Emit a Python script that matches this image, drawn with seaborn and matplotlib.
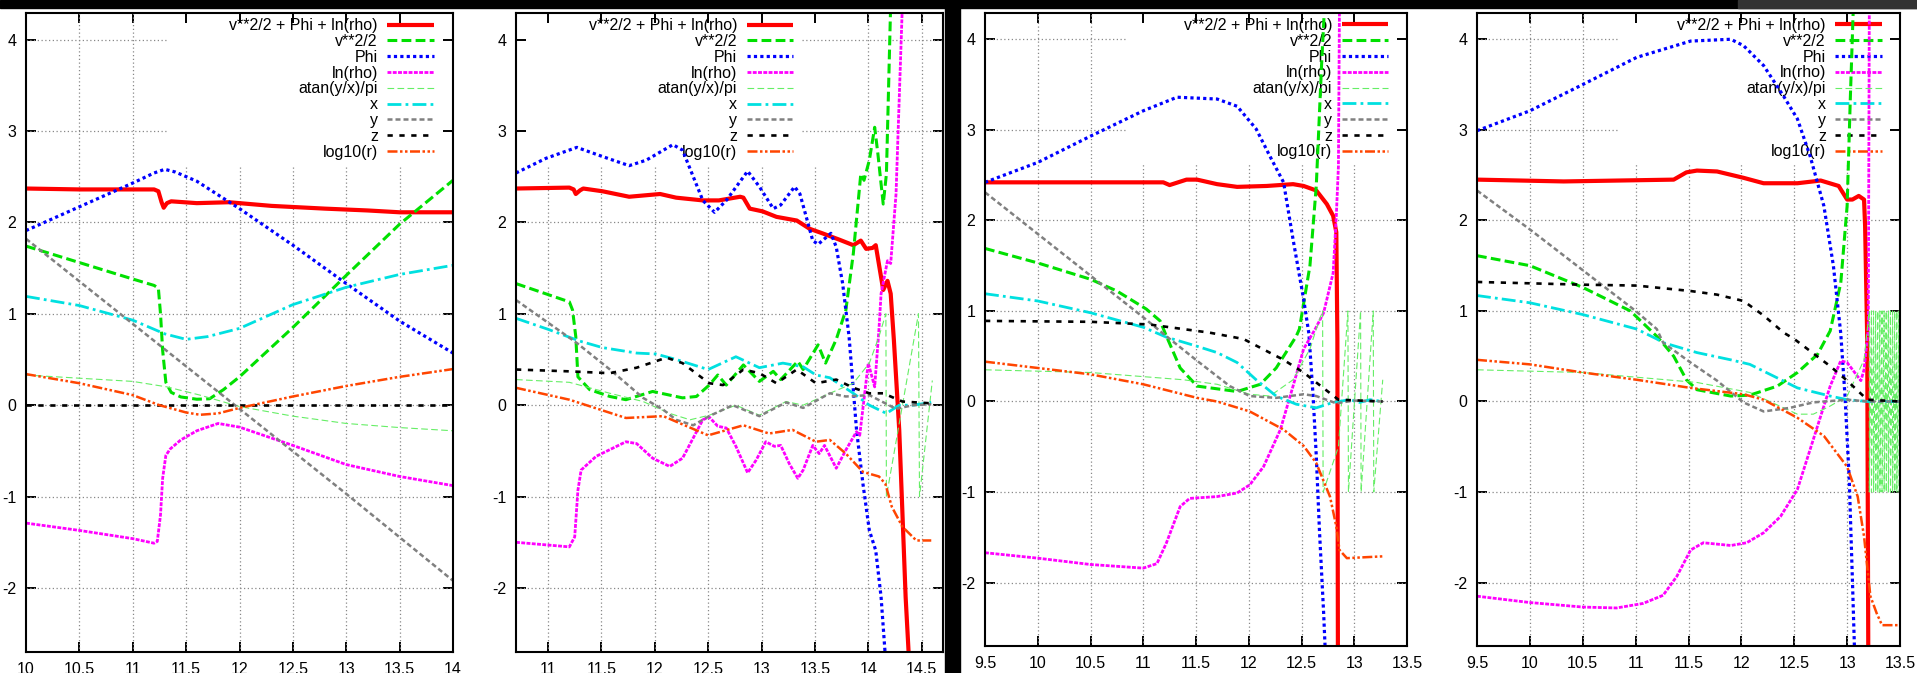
import os
import numpy as np
import pandas as pd
import matplotlib
matplotlib.use("Agg")
import matplotlib.pyplot as plt
import seaborn as sns
from matplotlib import font_manager as fm
from matplotlib.patches import Rectangle
from matplotlib.ticker import FormatStrFormatter

# ---------------- data ----------------
LABELS = ["v**2/2 + Phi + ln(rho)", "v**2/2", "Phi", "ln(rho)", "atan(y/x)/pi",
          "x", "y", "z", "log10(r)"]

# panel 1
p1_tot_x = [10.0, 10.5, 11.0, 11.2, 11.24, 11.27, 11.29, 11.32, 11.36, 11.6, 11.9, 12.3, 12.8, 13.2, 13.5, 14.0]
p1_tot_y = [2.37, 2.36, 2.36, 2.36, 2.34, 2.22, 2.16, 2.21, 2.23, 2.21, 2.22, 2.18, 2.15, 2.13, 2.11, 2.11]
p1_v2_x = [10.0, 10.5, 11.0, 11.2, 11.24, 11.26, 11.28, 11.31, 11.36, 11.45, 11.6, 11.72, 11.85, 12.0, 12.5, 13.0, 13.5, 14.0]
p1_v2_y = [1.74, 1.56, 1.38, 1.31, 1.28, 1.0, 0.6, 0.25, 0.14, 0.09, 0.065, 0.07, 0.17, 0.31, 0.85, 1.42, 1.98, 2.46]
p1_phi_x = [10.0, 10.5, 11.0, 11.2, 11.3, 11.4, 11.6, 12.0, 12.5, 13.0, 13.5, 14.0]
p1_phi_y = [1.91, 2.17, 2.43, 2.54, 2.58, 2.55, 2.45, 2.15, 1.75, 1.33, 0.92, 0.57]
p1_lnrho_x = [10.0, 10.5, 11.0, 11.2, 11.23, 11.26, 11.28, 11.31, 11.35, 11.45, 11.6, 11.8, 12.0, 12.5, 13.0, 13.5, 14.0]
p1_lnrho_y = [-1.29, -1.37, -1.46, -1.51, -1.49, -1.2, -0.8, -0.55, -0.48, -0.38, -0.28, -0.20, -0.24, -0.44, -0.65, -0.78, -0.88]
p1_atan_x = [10.0, 11.0, 11.32, 11.63, 12.0, 12.5, 13.0, 13.5, 14.0]
p1_atan_y = [0.33, 0.26, 0.20, 0.11, -0.015, -0.12, -0.20, -0.245, -0.28]
p1_x_x = [10.0, 10.5, 11.0, 11.3, 11.5, 11.7, 12.0, 12.5, 13.0, 13.5, 14.0]
p1_x_y = [1.19, 1.09, 0.93, 0.78, 0.72, 0.75, 0.84, 1.10, 1.29, 1.43, 1.53]
p1_y_x = [10.0, 11.0, 12.0, 13.0, 14.0]
p1_y_y = [1.82, 0.89, -0.04, -0.97, -1.92]
p1_z_x = [10.0, 14.0]
p1_z_y = [0.0, 0.0]
p1_logr_x = [10.0, 10.5, 11.0, 11.25, 11.5, 11.63, 11.8, 12.0, 12.5, 13.0, 13.5, 14.0]
p1_logr_y = [0.34, 0.24, 0.11, 0.0, -0.08, -0.105, -0.09, -0.03, 0.095, 0.21, 0.31, 0.395]

# panel 2
p2_tot_x = [10.7, 11.2, 11.24, 11.26, 11.3, 11.33, 11.51, 11.76, 12.05, 12.2, 12.45, 12.6, 12.8, 12.83, 12.89, 13.01, 13.14, 13.33, 13.45, 13.57, 13.73, 13.86, 13.93, 13.98, 14.04, 14.07, 14.14, 14.18, 14.21, 14.24, 14.29, 14.32, 14.35, 14.38]
p2_tot_y = [2.37, 2.38, 2.36, 2.31, 2.35, 2.37, 2.34, 2.28, 2.31, 2.27, 2.24, 2.24, 2.28, 2.27, 2.15, 2.12, 2.06, 2.02, 1.93, 1.88, 1.81, 1.75, 1.80, 1.71, 1.72, 1.75, 1.26, 1.36, 1.22, 0.71, -0.27, -1.18, -2.10, -2.75]
p2_v2_x = [10.7, 11.2, 11.23, 11.26, 11.28, 11.39, 11.58, 11.73, 11.98, 12.14, 12.26, 12.39, 12.51, 12.59, 12.67, 12.83, 12.98, 13.11, 13.18, 13.34, 13.39, 13.53, 13.6, 13.7, 13.79, 13.86, 13.93, 13.96, 14.01, 14.06, 14.09, 14.14, 14.17, 14.21]
p2_v2_y = [1.33, 1.13, 1.04, 0.75, 0.31, 0.17, 0.095, 0.06, 0.15, 0.11, 0.08, 0.095, 0.22, 0.33, 0.22, 0.44, 0.26, 0.37, 0.28, 0.48, 0.39, 0.66, 0.46, 0.72, 1.04, 1.66, 2.53, 2.46, 2.68, 3.04, 2.75, 2.20, 2.53, 4.4]
p2_phi_x = [10.7, 10.98, 11.27, 11.51, 11.76, 11.92, 12.17, 12.26, 12.45, 12.56, 12.67, 12.87, 12.98, 13.11, 13.18, 13.31, 13.36, 13.48, 13.53, 13.65, 13.7, 13.76, 13.82, 13.89, 13.95, 14.01, 14.07, 14.12, 14.16]
p2_phi_y = [2.54, 2.70, 2.82, 2.72, 2.62, 2.68, 2.85, 2.79, 2.24, 2.11, 2.24, 2.56, 2.39, 2.15, 2.19, 2.39, 2.31, 1.80, 1.76, 1.88, 1.73, 1.33, 0.75, -0.27, -0.86, -1.37, -1.59, -2.10, -2.75]
p2_lnrho_x = [10.7, 11.2, 11.25, 11.28, 11.31, 11.45, 11.73, 11.83, 11.98, 12.14, 12.26, 12.45, 12.51, 12.59, 12.67, 12.76, 12.87, 12.95, 13.04, 13.12, 13.18, 13.26, 13.34, 13.39, 13.48, 13.54, 13.59, 13.7, 13.79, 13.89, 13.92, 14.0, 14.06, 14.1, 14.12, 14.18, 14.21, 14.26, 14.32]
p2_lnrho_y = [-1.50, -1.55, -1.44, -0.93, -0.71, -0.56, -0.40, -0.42, -0.58, -0.67, -0.58, -0.16, -0.13, -0.23, -0.25, -0.45, -0.74, -0.60, -0.40, -0.45, -0.44, -0.64, -0.80, -0.71, -0.44, -0.53, -0.44, -0.69, -0.49, -0.29, -0.33, 0.46, 0.2, 0.83, 1.22, 1.58, 1.55, 2.31, 4.4]
p2_atan_x = [10.7, 11.2, 11.58, 11.89, 12.14, 12.33, 12.51, 12.76, 12.98, 13.23, 13.39, 13.64, 13.86, 14.01, 14.1, 14.165, 14.17, 14.47, 14.48, 14.6]
p2_atan_y = [0.28, 0.25, 0.13, 0.04, -0.09, -0.16, -0.11, 0.0, -0.11, 0.04, 0.0, 0.13, 0.24, 0.46, 0.75, 1.0, -1.0, 1.0, -1.0, 0.27]
p2_x_x = [10.7, 11.0, 11.3, 11.51, 11.83, 12.01, 12.2, 12.5, 12.76, 12.98, 13.2, 13.39, 13.51, 13.64, 13.86, 14.01, 14.17, 14.29, 14.42, 14.59]
p2_x_y = [0.95, 0.83, 0.70, 0.63, 0.57, 0.56, 0.50, 0.39, 0.53, 0.41, 0.46, 0.42, 0.33, 0.30, 0.13, 0.0, -0.09, 0.0, 0.0, 0.03]
p2_y_x = [10.7, 11.27, 11.58, 11.89, 12.08, 12.2, 12.36, 12.51, 12.73, 12.98, 13.23, 13.39, 13.64, 13.79, 14.01, 14.26, 14.42, 14.59]
p2_y_y = [1.15, 0.68, 0.39, 0.08, -0.05, -0.16, -0.22, -0.12, 0.0, -0.12, 0.03, -0.03, 0.13, 0.095, 0.11, -0.04, 0.0, 0.01]
p2_z_x = [10.7, 11.2, 11.58, 11.83, 12.11, 12.26, 12.51, 12.64, 12.83, 12.98, 13.14, 13.33, 13.51, 13.7, 13.86, 14.01, 14.14, 14.32, 14.59]
p2_z_y = [0.39, 0.37, 0.35, 0.41, 0.52, 0.46, 0.24, 0.22, 0.39, 0.35, 0.24, 0.39, 0.24, 0.28, 0.19, 0.13, 0.13, 0.04, 0.02]
p2_logr_x = [10.7, 11.2, 11.73, 12.08, 12.5, 12.83, 13.07, 13.29, 13.51, 13.64, 13.79, 13.95, 14.1, 14.16, 14.22, 14.32, 14.45, 14.59]
p2_logr_y = [0.19, 0.06, -0.14, -0.12, -0.33, -0.22, -0.31, -0.27, -0.40, -0.38, -0.53, -0.73, -0.78, -0.86, -1.11, -1.33, -1.48, -1.48]

# panel 3
p3_tot_x = [9.5, 10.5, 11.19, 11.25, 11.41, 11.51, 11.7, 11.89, 12.17, 12.42, 12.52, 12.64, 12.74, 12.8, 12.83, 12.84, 12.845]
p3_tot_y = [2.42, 2.42, 2.42, 2.39, 2.45, 2.45, 2.40, 2.37, 2.38, 2.40, 2.38, 2.33, 2.18, 2.05, 1.87, 0.69, -2.75]
p3_v2_x = [9.5, 10.0, 10.5, 10.75, 11.03, 11.16, 11.22, 11.25, 11.35, 11.51, 11.89, 12.11, 12.26, 12.45, 12.48, 12.58, 12.64, 12.69, 12.72]
p3_v2_y = [1.69, 1.53, 1.35, 1.22, 1.02, 0.89, 0.72, 0.64, 0.37, 0.17, 0.11, 0.19, 0.37, 0.72, 0.80, 1.50, 2.38, 3.71, 4.4]
p3_phi_x = [9.5, 10.0, 10.5, 11.0, 11.32, 11.7, 11.89, 12.07, 12.2, 12.33, 12.42, 12.52, 12.57, 12.61, 12.64, 12.67, 12.71, 12.725]
p3_phi_y = [2.42, 2.64, 2.93, 3.21, 3.36, 3.34, 3.26, 3.01, 2.71, 2.42, 1.79, 1.13, 0.75, 0.06, -0.6, -1.42, -2.34, -2.75]
p3_lnrho_x = [9.5, 10.0, 10.5, 11.0, 11.13, 11.22, 11.35, 11.44, 11.7, 11.89, 12.01, 12.14, 12.3, 12.42, 12.52, 12.63, 12.71, 12.8, 12.83, 12.85, 12.86]
p3_lnrho_y = [-1.67, -1.73, -1.80, -1.84, -1.79, -1.56, -1.16, -1.07, -1.05, -1.01, -0.92, -0.72, -0.31, 0.17, 0.58, 0.80, 0.98, 1.42, 2.05, 2.60, 4.4]
p3_atan_x = [9.5, 10.5, 11.38, 11.7, 12.01, 12.2, 12.42, 12.58, 12.64, 12.70, 12.705, 12.85, 12.94, 12.945, 13.06, 13.065, 13.18, 13.185, 13.27]
p3_atan_y = [0.35, 0.32, 0.24, 0.19, 0.08, 0.06, 0.24, 0.58, 0.8, 1.0, -1.0, -0.5, 1.0, -1.0, 1.0, -1.0, 1.0, -1.0, 0.24]
p3_x_x = [9.5, 10.0, 10.5, 11.0, 11.22, 11.25, 11.51, 11.7, 11.89, 12.07, 12.26, 12.45, 12.64, 12.8, 12.96, 13.05, 13.15, 13.27]
p3_x_y = [1.19, 1.11, 0.98, 0.82, 0.71, 0.70, 0.61, 0.54, 0.43, 0.24, 0.06, -0.03, -0.07, -0.01, 0.02, -0.01, 0.02, 0.0]
p3_y_x = [9.5, 10.0, 10.5, 11.0, 11.22, 11.51, 11.82, 12.01, 12.26, 12.52, 12.64, 12.83, 13.0, 13.27]
p3_y_y = [2.31, 1.85, 1.39, 0.93, 0.72, 0.45, 0.17, 0.06, 0.04, 0.08, 0.06, -0.02, 0.01, 0.0]
p3_z_x = [9.5, 10.5, 11.06, 11.63, 11.95, 12.33, 12.52, 12.64, 12.85, 13.27]
p3_z_y = [0.89, 0.88, 0.85, 0.76, 0.69, 0.46, 0.32, 0.21, 0.02, 0.0]
p3_logr_x = [9.5, 10.0, 10.5, 11.0, 11.51, 11.7, 12.01, 12.33, 12.52, 12.64, 12.77, 12.83, 12.86, 12.93, 13.1, 13.27]
p3_logr_y = [0.44, 0.37, 0.30, 0.19, 0.04, 0.0, -0.11, -0.31, -0.49, -0.68, -1.05, -1.38, -1.64, -1.73, -1.72, -1.71]

# panel 4
p4_tot_x = [9.5, 10.32, 11.36, 11.48, 11.58, 11.77, 12.02, 12.21, 12.53, 12.75, 12.92, 13.0, 13.05, 13.11, 13.16, 13.17, 13.19, 13.2]
p4_tot_y = [2.45, 2.43, 2.45, 2.53, 2.55, 2.54, 2.47, 2.41, 2.41, 2.44, 2.38, 2.23, 2.23, 2.27, 2.23, 1.94, 0.69, -2.75]
p4_v2_x = [9.5, 10.0, 10.5, 10.95, 11.2, 11.26, 11.36, 11.48, 11.58, 11.9, 12.08, 12.34, 12.53, 12.72, 12.84, 12.94, 13.0, 13.03, 13.06]
p4_v2_y = [1.61, 1.50, 1.26, 1.0, 0.72, 0.64, 0.50, 0.24, 0.13, 0.06, 0.07, 0.17, 0.32, 0.52, 0.78, 1.31, 2.16, 3.34, 4.4]
p4_phi_x = [9.5, 10.0, 10.5, 11.01, 11.52, 11.9, 12.02, 12.21, 12.4, 12.53, 12.65, 12.78, 12.87, 12.94, 12.98, 13.02, 13.05, 13.07]
p4_phi_y = [2.99, 3.21, 3.50, 3.80, 3.98, 4.0, 3.93, 3.71, 3.37, 3.12, 2.71, 2.16, 1.50, 0.75, 0.06, -0.86, -1.97, -2.75]
p4_lnrho_x = [9.5, 10.0, 10.5, 10.82, 11.07, 11.26, 11.39, 11.52, 11.64, 11.9, 12.05, 12.21, 12.37, 12.53, 12.68, 12.84, 12.94, 13.0, 13.13, 13.16, 13.2, 13.21]
p4_lnrho_y = [-2.15, -2.22, -2.27, -2.28, -2.23, -2.14, -1.93, -1.64, -1.56, -1.59, -1.56, -1.45, -1.27, -0.97, -0.42, 0.17, 0.45, 0.43, 0.23, 0.35, 0.8, 4.4]
p4_atan_x = [9.5, 10.5, 11.58, 12.08, 12.53, 12.68, 12.84, 13.0, 13.16, 13.2,
             13.21, 13.21, 13.23, 13.23, 13.25, 13.25, 13.27, 13.27, 13.29, 13.29,
             13.31, 13.31, 13.33, 13.33, 13.35, 13.35, 13.37, 13.37, 13.39, 13.39,
             13.41, 13.41, 13.43, 13.43, 13.45, 13.45, 13.47, 13.47, 13.49, 13.49]
p4_atan_y = [0.35, 0.32, 0.21, 0.10, -0.14, -0.14, -0.05, 0.06, 0.46, 0.9,
             1, -1, 1, -1, 1, -1, 1, -1, 1, -1,
             1, -1, 1, -1, 1, -1, 1, -1, 1, -1,
             1, -1, 1, -1, 1, -1, 1, -1, 1, -1]
p4_x_x = [9.5, 10.0, 10.5, 11.01, 11.2, 11.26, 11.58, 11.9, 12.08, 12.34, 12.53, 12.84, 13.0, 13.2, 13.5]
p4_x_y = [1.17, 1.09, 0.96, 0.80, 0.69, 0.65, 0.54, 0.46, 0.41, 0.26, 0.15, 0.06, 0.02, 0.0, 0.0]
p4_y_x = [9.5, 10.0, 10.5, 11.0, 11.2, 11.26, 11.52, 11.77, 12.02, 12.21, 12.46, 12.68, 13.0, 13.2, 13.5]
p4_y_y = [2.33, 1.90, 1.45, 1.0, 0.8, 0.65, 0.43, 0.23, -0.01, -0.11, -0.07, -0.01, 0.02, 0.0, 0.0]
p4_z_x = [9.5, 10.5, 11.01, 11.52, 11.77, 12.02, 12.21, 12.4, 12.5, 12.84, 13.0, 13.19, 13.5]
p4_z_y = [1.32, 1.29, 1.28, 1.22, 1.18, 1.11, 0.95, 0.76, 0.69, 0.39, 0.23, 0.02, 0.0]
p4_logr_x = [9.5, 10.0, 10.5, 11.01, 11.52, 12.02, 12.21, 12.53, 12.78, 13.0, 13.1, 13.16, 13.2, 13.22, 13.28, 13.33, 13.49]
p4_logr_y = [0.46, 0.41, 0.32, 0.24, 0.15, 0.08, 0.02, -0.18, -0.38, -0.72, -1.05, -1.49, -1.93, -2.15, -2.34, -2.47, -2.47]

panel1_xticks = [10, 10.5, 11, 11.5, 12, 12.5, 13, 13.5, 14]
panel2_xticks = [11, 11.5, 12, 12.5, 13, 13.5, 14, 14.5]
panel34_xticks = [9.5, 10, 10.5, 11, 11.5, 12, 12.5, 13, 13.5]
yticks = [-2, -1, 0, 1, 2, 3, 4]

# ---------------- styles ----------------
STYLES = [
    dict(color="#ff0000", lw=3.0, ls="-"),
    dict(color="#00e000", lw=2.2, ls=(0, (3.2, 1.4))),
    dict(color="#0000ff", lw=2.3, ls=(0, (1, 1))),
    dict(color="#ff00ff", lw=2.0, ls=(0, (1.4, 0.5))),
    dict(color="#66ee66", lw=0.8, ls=(0, (6, 3))),
    dict(color="#00e0e0", lw=2.0, ls=(0, (5, 1.5, 1, 1.5))),
    dict(color="#808080", lw=1.8, ls=(0, (2, 1.2))),
    dict(color="#000000", lw=1.9, ls=(0, (2, 2.5))),
    dict(color="#ff4500", lw=1.8, ls=(0, (4, 1, 1, 1, 1, 1))),
]

sns.set_theme(style="ticks")
plt.rcParams["font.family"] = ["Liberation Sans", "DejaVu Sans"]
plt.rcParams["axes.unicode_minus"] = False
FS = 11.5

W, H = 1917, 673
fig = plt.figure(figsize=(W / 100, H / 100), dpi=100)
fig.patch.set_facecolor("white")

# window decorations
fig.add_artist(Rectangle((0, 1 - 8 / H), 1, 8 / H, transform=fig.transFigure,
                         color="black", zorder=0))
fig.add_artist(Rectangle((1738 / W, 1 - 8 / H), (W - 1738) / W, 8 / H,
                         transform=fig.transFigure, color="#333333", zorder=0))
fig.add_artist(Rectangle((945 / W, 0), 15 / W, 1 - 8 / H, transform=fig.transFigure,
                         color="black", zorder=0))

panels = [
    dict(px=(26, 13, 453, 652), xlim=(10, 14), xticks=panel1_xticks,
         vbox=(0.33, 1.01), hbox=(0.333, 1.0), leg_x=0.955,
         series=[(p1_tot_x, p1_tot_y), (p1_v2_x, p1_v2_y), (p1_phi_x, p1_phi_y),
                 (p1_lnrho_x, p1_lnrho_y), (p1_atan_x, p1_atan_y), (p1_x_x, p1_x_y),
                 (p1_y_x, p1_y_y), (p1_z_x, p1_z_y), (p1_logr_x, p1_logr_y)]),
    dict(px=(516, 13, 943, 652), xlim=(10.7, 14.7), xticks=panel2_xticks,
         vbox=(-0.01, 0.72), hbox=(0.0, 0.67), leg_x=0.649,
         series=[(p2_tot_x, p2_tot_y), (p2_v2_x, p2_v2_y), (p2_phi_x, p2_phi_y),
                 (p2_lnrho_x, p2_lnrho_y), (p2_atan_x, p2_atan_y), (p2_x_x, p2_x_y),
                 (p2_y_x, p2_y_y), (p2_z_x, p2_z_y), (p2_logr_x, p2_logr_y)]),
    dict(px=(985, 13, 1407, 646), xlim=(9.5, 13.5), xticks=panel34_xticks,
         vbox=(0.33, 1.01), hbox=(0.332, 1.0), leg_x=0.955,
         series=[(p3_tot_x, p3_tot_y), (p3_v2_x, p3_v2_y), (p3_phi_x, p3_phi_y),
                 (p3_lnrho_x, p3_lnrho_y), (p3_atan_x, p3_atan_y), (p3_x_x, p3_x_y),
                 (p3_y_x, p3_y_y), (p3_z_x, p3_z_y), (p3_logr_x, p3_logr_y)]),
    dict(px=(1477, 13, 1900, 646), xlim=(9.5, 13.5), xticks=panel34_xticks,
         vbox=(0.33, 1.01), hbox=(0.333, 1.0), leg_x=0.957,
         series=[(p4_tot_x, p4_tot_y), (p4_v2_x, p4_v2_y), (p4_phi_x, p4_phi_y),
                 (p4_lnrho_x, p4_lnrho_y), (p4_atan_x, p4_atan_y), (p4_x_x, p4_x_y),
                 (p4_y_x, p4_y_y), (p4_z_x, p4_z_y), (p4_logr_x, p4_logr_y)]),
]

YLIM = (-2.7, 4.29)
BOX_Y = 0.762
GRID_KW = dict(color="#888888", lw=0.9, ls=(0, (1, 2)), zorder=0.8)

for p in panels:
    l, t, r, b = p["px"]
    ax = fig.add_axes([l / W, 1 - b / H, (r - l) / W, (b - t) / H])
    ax.set_facecolor("white")
    ax.set_xlim(*p["xlim"])
    ax.set_ylim(*YLIM)

    # grid, interrupted by the key area (as gnuplot does)
    x0, x1 = p["xlim"]
    for xt in p["xticks"]:
        f = (xt - x0) / (x1 - x0)
        if f <= 0.001 or f >= 0.999:
            continue
        if p["vbox"][0] <= f <= p["vbox"][1]:
            ax.axvline(xt, ymin=0, ymax=BOX_Y, **GRID_KW)
        else:
            ax.axvline(xt, **GRID_KW)
    for yt in yticks:
        f = (yt - YLIM[0]) / (YLIM[1] - YLIM[0])
        if f >= BOX_Y:
            hx0, hx1 = p["hbox"]
            if hx0 > 0.01:
                ax.axhline(yt, xmin=0, xmax=hx0, **GRID_KW)
            if hx1 < 0.99:
                ax.axhline(yt, xmin=hx1, xmax=1, **GRID_KW)
        else:
            ax.axhline(yt, **GRID_KW)

    handles = []
    for (xs, ys), st, lab in zip(p["series"], STYLES, LABELS):
        df = pd.DataFrame({"x": xs, "y": ys})
        n0 = len(ax.lines)
        sns.lineplot(data=df, x="x", y="y", ax=ax, estimator=None, sort=False,
                     color=st["color"], lw=st["lw"], legend=False, zorder=2)
        ln = ax.lines[n0]
        ln.set_linestyle(st["ls"])
        ln.set_label(lab)
        ln.set_solid_capstyle("butt")
        ln.set_dash_capstyle("butt")
        handles.append(ln)

    ax.set_xlabel("")
    ax.set_ylabel("")
    ax.set_xticks(p["xticks"])
    ax.set_yticks(yticks)
    ax.xaxis.set_major_formatter(FormatStrFormatter("%g"))
    ax.yaxis.set_major_formatter(FormatStrFormatter("%g"))
    ax.tick_params(direction="in", length=7, width=1.4, top=True, right=True,
                   labelsize=FS, colors="black", pad=7)
    for s in ax.spines.values():
        s.set_visible(True)
        s.set_color("black")
        s.set_linewidth(1.5)

    leg = ax.legend(handles, LABELS, loc="upper right",
                    bbox_to_anchor=(p["leg_x"], 0.992), frameon=False,
                    markerfirst=False, fontsize=FS, handlelength=2.9,
                    handletextpad=0.6, labelspacing=0.05, borderpad=0,
                    borderaxespad=0)
    leg.set_zorder(1.5)
    for txt in leg.get_texts():
        txt.set_color("black")

fig.savefig("out.png", dpi=100, facecolor="white")
